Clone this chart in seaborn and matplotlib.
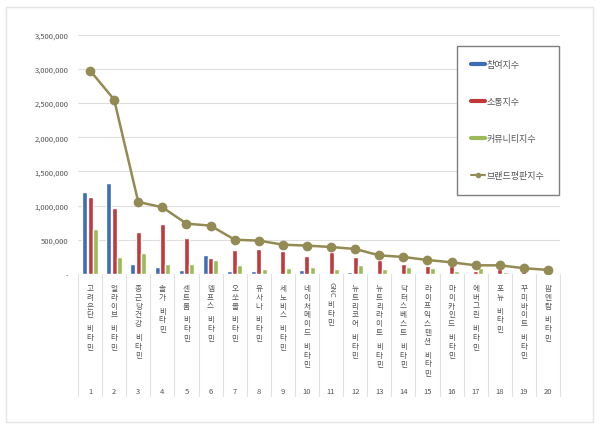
import numpy as np
import pandas as pd
import matplotlib
matplotlib.use("Agg")
import matplotlib.pyplot as plt
import matplotlib.transforms as mtransforms
from matplotlib.lines import Line2D
from matplotlib.patches import Rectangle
from matplotlib.ticker import FuncFormatter
import seaborn as sns

# data
brands = ["고려은단 비타민", "얼라이브 비타민", "종근당건강 비타민", "솔가 비타민", "센트룸 비타민",
          "뎀프스 비타민", "오쏘몰 비타민", "유사나 비타민", "세노비스 비타민", "네이처메이드 비타민",
          "GNC 비타민", "뉴트리코어 비타민", "뉴트리라이트 비타민", "닥터스베스트 비타민",
          "라이프익스텐션 비타민", "마이카인드 비타민", "에버그린 비타민", "포뉴 비타민",
          "꾸미바이트 비타민", "팜엔탑 비타민"]
ranks = list(range(1, 21))
participation = [1204000, 1332000, 141000, 102000, 59000, 285000, 39000, 49000, 15000, 57000,
                 12000, 30000, 10000, 10000, 10000, 8000, 8000, 6000, 5000, 4000]
communication = [1122000, 966000, 610000, 737000, 532000, 229000, 346000, 366000, 332000, 261000,
                 321000, 244000, 205000, 141000, 122000, 112000, 40000, 80000, 50000, 30000]
community = [654000, 254000, 312000, 141000, 151000, 203000, 127000, 78000, 93000, 102000,
             66000, 127000, 68000, 107000, 83000, 49000, 93000, 25000, 20000, 15000]
reputation = [2976000, 2551000, 1054000, 976000, 737000, 707000, 502000, 488000, 429000, 415000,
              395000, 366000, 273000, 249000, 205000, 171000, 127000, 127000, 85000, 60000]

series_names = ["참여지수", "소통지수", "커뮤니티지수"]
line_name = "브랜드평판지수"
colors = ["#3E6DB5", "#C0393B", "#9BBB59"]
line_color = "#948A54"
text_color = "#555555"

sns.set_theme(style="white")
plt.rcParams["font.family"] = ["Noto Sans CJK KR", "DejaVu Sans"]

df = pd.DataFrame({"rank": ranks, series_names[0]: participation,
                   series_names[1]: communication, series_names[2]: community})
long = df.melt(id_vars="rank", var_name="지수", value_name="값")

W, H = 600, 431
fig = plt.figure(figsize=(W / 100, H / 100), dpi=100)
fig.patches.append(Rectangle((6 / W, 1 - 423 / H), 587 / W, 415 / H,
                             transform=fig.transFigure, fill=False,
                             edgecolor="#e4e4e4", lw=1))
ax = fig.add_axes([78 / W, 1 - 275 / H, 482 / W, 239.3 / H])

sns.barplot(data=long, x="rank", y="값", hue="지수", hue_order=series_names,
            palette=colors, width=0.66, gap=0.06, ax=ax, legend=False,
            saturation=1)
sns.lineplot(x=np.arange(20), y=reputation, color=line_color, lw=1.8,
             marker="o", markersize=7, markeredgewidth=0, ax=ax, legend=False)

ax.set_xlim(-0.5, 19.5)
ax.set_ylim(0, 3500000)
ax.set_yticks(np.arange(0, 3500001, 500000))
ax.yaxis.set_major_formatter(FuncFormatter(lambda v, p: "-" if v == 0 else f"{int(v):,}"))
ax.tick_params(axis="y", labelsize=5.5, labelcolor=text_color, length=0, pad=7)
ax.set_xticks([])
ax.set_xlabel("")
ax.set_ylabel("")
for s in ax.spines.values():
    s.set_visible(False)
ax.grid(axis="y", color="#dedede", lw=0.8)
ax.set_axisbelow(True)

# multi-level category axis below the plot, names stacked vertically
trans = mtransforms.blended_transform_factory(ax.transData, fig.transFigure)
for i in range(21):
    ax.plot([i - 0.5, i - 0.5], [1 - 275 / H, 1 - 397 / H], transform=trans,
            color="#e0e0e0", lw=0.8, clip_on=False)

step = 8.8
space = 5.0
for i, (name, r) in enumerate(zip(brands, ranks)):
    y = 289.0
    k = 0
    while k < len(name):
        ch = name[k]
        if ch == " ":
            y += space
            k += 1
            continue
        if ch.isascii():
            j = k
            while j < len(name) and name[j].isascii() and name[j] != " ":
                j += 1
            run = name[k:j]
            ext = 0.42 * len(run) * step
            ax.text(i, 1 - (y - step / 2 + ext / 2) / H, run, transform=trans,
                    ha="center", va="center", rotation=-90, fontsize=5.5,
                    color=text_color)
            y += ext
            k = j
            continue
        ax.text(i, 1 - y / H, ch, transform=trans, ha="center", va="center",
                fontsize=5.5, color=text_color)
        y += step
        k += 1
    ax.text(i, 1 - 392 / H, str(r), transform=trans, ha="center", va="center",
            fontsize=5.5, color=text_color)

handles = [Line2D([], [], color=c, lw=3) for c in colors]
handles.append(Line2D([], [], color=line_color, lw=1.5, marker="o", markersize=3))
leg = fig.legend(handles, series_names + [line_name], loc="upper left",
                 bbox_to_anchor=(457 / W, 1 - 47 / H), borderaxespad=0,
                 fontsize=6.5, labelspacing=3.1, handlelength=1.5,
                 handletextpad=0.2, borderpad=1.6, fancybox=False,
                 edgecolor="#7f7f7f", framealpha=1, labelcolor=text_color)
leg.get_frame().set_linewidth(1)

fig.savefig("out.png", dpi=100)
